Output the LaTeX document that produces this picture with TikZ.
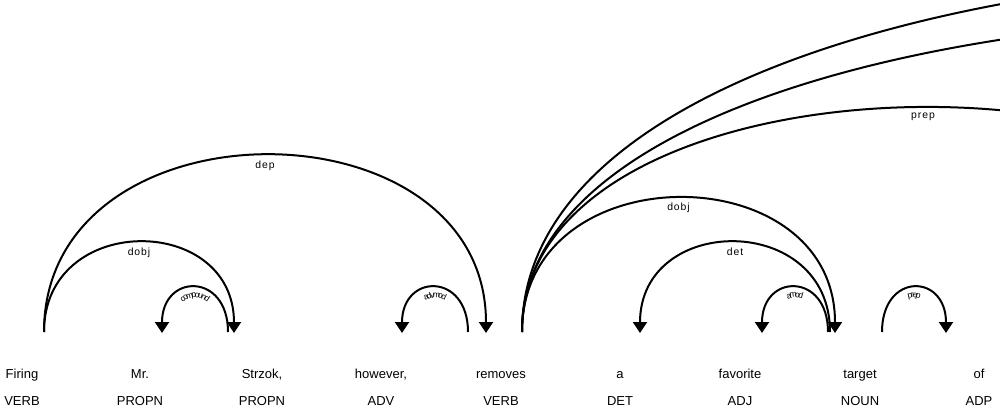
\documentclass[tikz,border=0pt]{standalone}
\usepackage{fontspec}
\setmainfont{Liberation Sans}
\usetikzlibrary{arrows.meta,decorations.text}

\tikzset{
	word/.style = {anchor = base, inner sep = 0pt, font = \fontsize{13}{15}\selectfont},
	arcline/.style = {line width = 2pt},
	arrowed/.style = {arcline, -{Triangle[width = 14pt, length = 11pt]}},
	lab/.style = {below, inner sep = 4pt, font = \fontsize{10.4}{12}\selectfont\addfontfeature{LetterSpace = 9}},
	bendlab/.style = {decorate, decoration = {text along path, text align = center, raise = -10pt, text = {|\fontsize{8.5}{8.5}\selectfont|#1}}}
}

\begin{document}
\begin{tikzpicture}[x = 1pt, y = 1pt]
	\useasboundingbox (0,0) rectangle (1000,413);
	\clip (0,0) rectangle (1000,413);
	% words and tags
	\foreach \x/\w/\t/\n in {22/Firing/VERB/firing, 140/Mr./PROPN/mr, 262/{Strzok,}/PROPN/strzok, 381/{however,}/ADV/however, 501/removes/VERB/removes, 620/a/DET/a, 740/favorite/ADJ/favorite, 860/target/NOUN/target, 979/of/ADP/of}{
		\node[word] (\n) at (\x,35) {\w};
		\node[word] (\n-tag) at (\x,8) {\t};
	}
	% arc feet
	\coordinate (firing-o) at (44,81);
	\coordinate (mr-i) at (162,80);
	\coordinate (strzok-i) at (234,80);
	\coordinate (strzok-o) at (228,81);
	\coordinate (however-i) at (402,80);
	\coordinate (removes-i) at (486,80);
	\coordinate (removes-o) at (522,81);
	\coordinate (removes-a) at (468,81);
	\coordinate (a-i) at (640,80);
	\coordinate (favorite-i) at (762,80);
	\coordinate (target-i) at (835,80);
	\coordinate (target-d) at (830,81);
	\coordinate (target-a) at (828,81);
	\coordinate (target-o) at (882,81);
	\coordinate (of-i) at (946,80);
	\coordinate (far-a) at (1324,80);
	\coordinate (far-b) at (2103,80);
	\coordinate (far-c) at (2219,80);

	% arcs
	\draw[arrowed] (firing-o) .. controls +(0,236) and +(0,236) .. (removes-i) node[lab, midway]{dep};
	\draw[arrowed] (firing-o) .. controls +(0,120) and +(0,120) .. (strzok-i) node[lab, midway]{dobj};
	\draw[arrowed] (strzok-o) .. controls +(0,60) and +(0,60) .. (mr-i);
	\path[bendlab = compound] (mr-i) .. controls +(0,60) and +(0,60) .. (strzok-o);
	\draw[arrowed] (removes-a) .. controls +(0,60) and +(0,60) .. (however-i);
	\path[bendlab = advmod] (however-i) .. controls +(0,60) and +(0,60) .. (removes-a);
	\draw[arrowed] (removes-o) .. controls +(0,179) and +(0,179) .. (target-i) node[lab, midway]{dobj};
	\draw[arrowed] (target-d) .. controls +(0,120) and +(0,120) .. (a-i) node[lab, midway]{det};
	\draw[arrowed] (target-a) .. controls +(0,60) and +(0,60) .. (favorite-i);
	\path[bendlab = amod] (favorite-i) .. controls +(0,60) and +(0,60) .. (target-a);
	\draw[arrowed] (target-o) .. controls +(0,60) and +(0,60) .. (of-i);
	\path[bendlab = prep] (target-o) .. controls +(0,60) and +(0,60) .. (of-i);
	\draw[arrowed] (removes-o) .. controls +(0,299) and +(0,299) .. (far-a) node[lab, midway]{prep};
	\draw[arrowed] (removes-o) .. controls +(0,420) and +(0,420) .. (far-b);
	\draw[arrowed] (removes-o) .. controls +(0,480) and +(0,480) .. (far-c);
\end{tikzpicture}
\end{document}
